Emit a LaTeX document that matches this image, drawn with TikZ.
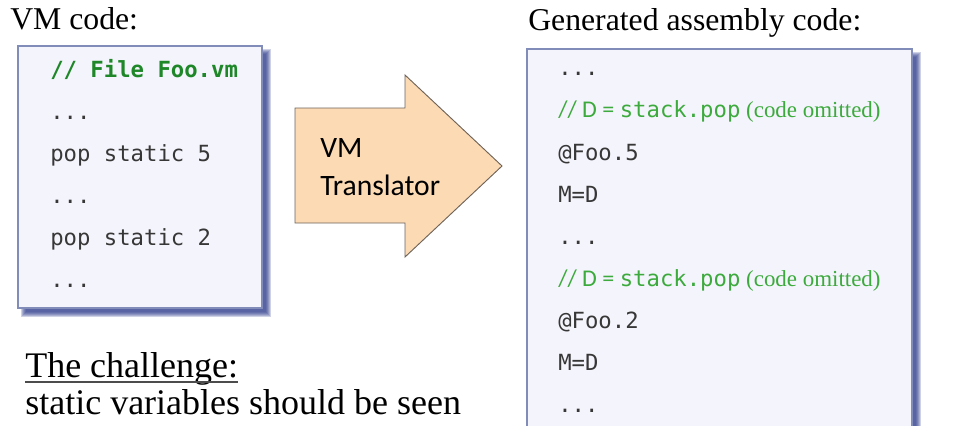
\documentclass[tikz,border=0pt]{standalone}
\usepackage{fontspec}
\setmainfont{Liberation Serif}
\newfontfamily\codefont{DejaVu Sans Mono}
\newfontfamily\calfont{Carlito}
\usepackage{xcolor}
\usetikzlibrary{positioning}

\definecolor{boxfill}{RGB}{244,244,252}
\definecolor{boxline}{RGB}{130,140,185}
\definecolor{boxshadow}{RGB}{45,60,140}
\definecolor{arrowfill}{RGB}{252,218,180}
\definecolor{arrowline}{RGB}{110,100,90}
\definecolor{vmgreen}{RGB}{30,135,40}
\definecolor{asmgreen}{RGB}{60,170,60}
\definecolor{codegray}{RGB}{55,55,55}

\newcommand{\codesize}{\fontsize{16.7}{20}\selectfont}
\newcommand{\popcomment}{{\calfont\fontsize{18}{20}\selectfont // D = }{\codefont\codesize stack.pop} (code omitted)}

\tikzset{
  codeline/.style={anchor=base west, inner sep=0pt, text=codegray, font=\codefont\codesize},
  heading/.style={anchor=base west, inner sep=0pt, font=\fontsize{23.8}{28}\selectfont},
  plaintext/.style={anchor=base west, inner sep=0pt, font=\fontsize{27}{32}\selectfont},
  asmcomment/.style={anchor=base west, inner sep=0pt, text=asmgreen, font=\fontsize{17.2}{20}\selectfont},
  xltext/.style={anchor=base west, inner sep=0pt, font=\calfont\fontsize{22.2}{26}\selectfont},
  codebox/.style={fill=boxfill, draw=boxline, line width=0.8pt},
}

\begin{document}
\begin{tikzpicture}[x=0.75pt, y=-0.75pt]
    \useasboundingbox (0,0) rectangle (966,425);
    \clip (0,0) rectangle (966,425);

    % Schatten der Kästen
    \foreach \i in {0,...,5} {
        \fill[boxshadow, opacity=0.23] (26-\i,54-\i) rectangle (266+\i,312+\i);
        \fill[boxshadow, opacity=0.23] (535-\i,57-\i) rectangle (916+\i,460);
    }
    \draw[codebox] (18,46) rectangle (262,308);
    \draw[codebox] (527,49) rectangle (912,460);

    % Überschriften
    \node[heading] (vmtitle) at (10,29) {VM code:};
    \node[heading] (asmtitle) at (528,30) {Generated assembly code:};

    % VM-Code
    \node[codeline, text=vmgreen, font=\codefont\codesize\bfseries] (vm1) at (50,77) {// File Foo.vm};
    \node[codeline] (vm2) at (50,119) {...};
    \node[codeline] (vm3) at (50,161) {pop static 5};
    \node[codeline] (vm4) at (50,203) {...};
    \node[codeline] (vm5) at (50,245) {pop static 2};
    \node[codeline] (vm6) at (50,287) {...};

    % Übersetzer-Pfeil
    \draw[fill=arrowfill, draw=arrowline, line width=0.7pt]
        (295,108) -- (405,108) -- (405,75) -- (502,166) -- (405,257) -- (405,223) -- (295,223) -- cycle;
    \node[xltext] (xlvm) at (320,157) {VM};
    \node[xltext] (xltrans) at (320,195) {Translator};

    % Assembler-Code
    \node[codeline] (asm1) at (558,75) {...};
    \node[asmcomment] (asm2) at (558,117) {\popcomment};
    \node[codeline] (asm3) at (558,160) {@Foo.5};
    \node[codeline] (asm4) at (558,202) {M=D};
    \node[codeline] (asm5) at (558,244) {...};
    \node[asmcomment] (asm6) at (558,286) {\popcomment};
    \node[codeline] (asm7) at (558,328) {@Foo.2};
    \node[codeline] (asm8) at (558,370) {M=D};
    \node[codeline] (asm9) at (558,412) {...};

    % Aufgabe
    \node[plaintext] (chal) at (25,377) {The challenge:};
    \draw[black!70, line width=1.4pt] ([yshift=-3.5pt]chal.base west) -- ([yshift=-3.5pt]chal.base east);
    \node[plaintext] (chaltext) at (25,414) {static variables should be seen};
\end{tikzpicture}
\end{document}
